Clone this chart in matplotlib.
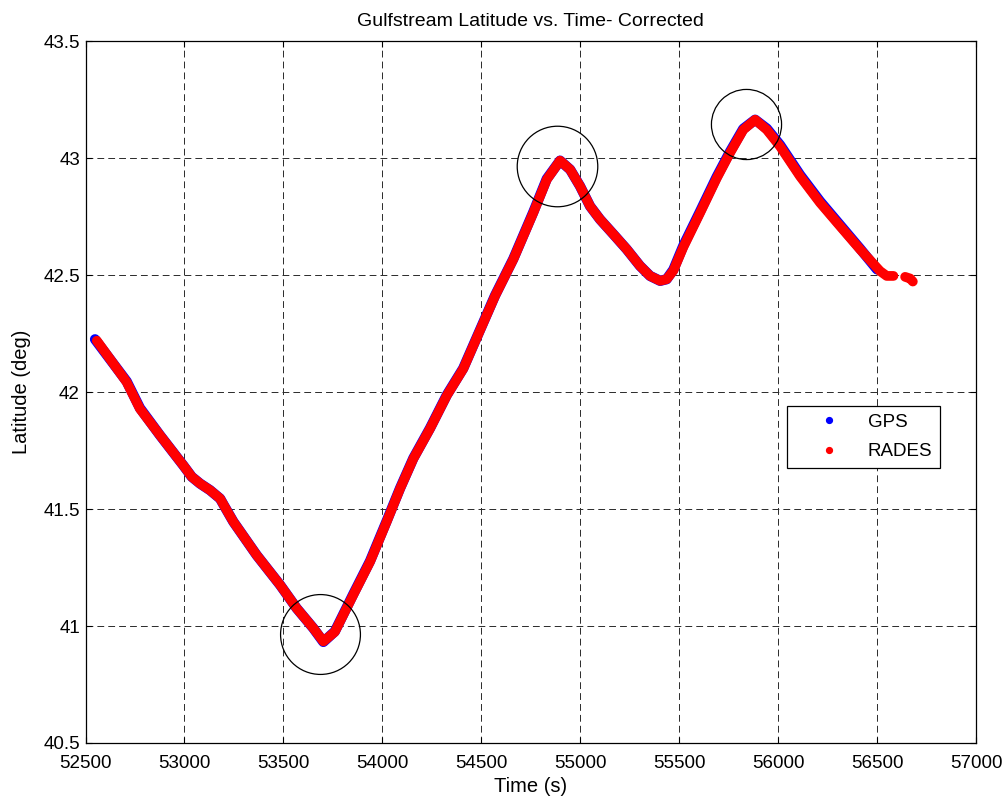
import numpy as np
import matplotlib
matplotlib.use("Agg")
import matplotlib.pyplot as plt
from matplotlib.lines import Line2D
from matplotlib.ticker import FixedLocator, FormatStrFormatter

# ---- data ----
rades_time = [52557, 52708, 52775, 52877, 52994, 53037, 53079, 53129, 53180, 53200,
              53247, 53365, 53483, 53567, 53651, 53702, 53760, 53853, 53938, 54022,
              54090, 54157, 54241, 54326, 54409, 54570, 54662, 54763, 54831, 54898,
              54949, 54999, 55050, 55100, 55168, 55235, 55302, 55353, 55404, 55437,
              55471, 55521, 55606, 55690, 55757, 55824, 55884, 55943, 56010, 56111,
              56212, 56313, 56414, 56515, 56549, 56583, np.nan, 56642, 56667, 56681]
rades_lat = [42.220, 42.043, 41.929, 41.815, 41.687, 41.638, 41.609, 41.581, 41.545, 41.515,
             41.446, 41.303, 41.176, 41.076, 40.991, 40.934, 40.975, 41.133, 41.275, 41.446,
             41.588, 41.716, 41.844, 41.986, 42.100, 42.412, 42.568, 42.767, 42.909, 42.990,
             42.952, 42.881, 42.795, 42.739, 42.675, 42.611, 42.540, 42.497, 42.476, 42.483,
             42.520, 42.620, 42.767, 42.915, 43.023, 43.122, 43.165, 43.122, 43.051, 42.923,
             42.810, 42.710, 42.611, 42.518, 42.497, 42.497, np.nan, 42.493, 42.486, 42.473]

gps_time = [52548, 52708, 52775, 52877, 52994, 53037, 53079, 53129, 53180, 53200,
            53247, 53365, 53483, 53567, 53651, 53702, 53760, 53853, 53938, 54022,
            54090, 54157, 54241, 54326, 54409, 54570, 54662, 54763, 54831, 54898,
            54949, 54999, 55050, 55100, 55168, 55235, 55302, 55353, 55404, 55437,
            55471, 55521, 55606, 55690, 55757, 55824, 55884, 55943, 56010, 56111,
            56212, 56313, 56414, 56500]
gps_lat = [42.226, 42.046, 41.932, 41.815, 41.687, 41.638, 41.609, 41.581, 41.545, 41.515,
           41.446, 41.303, 41.176, 41.076, 40.991, 40.932, 40.977, 41.136, 41.278, 41.449,
           41.590, 41.718, 41.846, 41.988, 42.102, 42.414, 42.570, 42.770, 42.912, 42.990,
           42.952, 42.881, 42.795, 42.739, 42.675, 42.611, 42.540, 42.497, 42.476, 42.483,
           42.524, 42.626, 42.773, 42.921, 43.028, 43.126, 43.165, 43.127, 43.057, 42.929,
           42.816, 42.715, 42.614, 42.525]

highlight_time = [53683, 54881, 55838]
highlight_lat = [40.968, 42.966, 43.148]
highlight_diam_pt = [57.5, 58.0, 50.5]

x_ticks = [52500, 53000, 53500, 54000, 54500, 55000, 55500, 56000, 56500, 57000]
y_ticks = [40.5, 41.0, 41.5, 42.0, 42.5, 43.0, 43.5]

title = "Gulfstream Latitude vs. Time- Corrected"
xlabel = "Time (s)"
ylabel = "Latitude (deg)"
series_names = ["GPS", "RADES"]

# ---- styling ----
plt.rcParams['font.family'] = ['Liberation Sans', 'DejaVu Sans']
FS = 13.5
FS_LABEL = 14.5
FS_TITLE = 14

fig = plt.figure(figsize=(10.05, 8.0), dpi=100)
ax = fig.add_axes([0.0851, 0.0713, 0.9711 - 0.0851, 0.9483 - 0.0713])

ax.plot(gps_time, gps_lat, color='#0000ff', lw=7.4, solid_capstyle='round',
        solid_joinstyle='round', zorder=3)
ax.plot(rades_time, rades_lat, color='#ff0000', lw=7.0, solid_capstyle='round',
        solid_joinstyle='round', zorder=4)

for cx, cy, d in zip(highlight_time, highlight_lat, highlight_diam_pt):
    ax.plot([cx], [cy], marker='o', ms=d, mfc='none', mec='black', mew=0.9,
            ls='none', zorder=5)

ax.set_xlim(x_ticks[0], x_ticks[-1])
ax.set_ylim(y_ticks[0], y_ticks[-1])
ax.xaxis.set_major_locator(FixedLocator(x_ticks))
ax.yaxis.set_major_locator(FixedLocator(y_ticks))
ax.xaxis.set_major_formatter(FormatStrFormatter('%d'))
ax.yaxis.set_major_formatter(plt.FuncFormatter(lambda v, p: '%g' % v))

ax.tick_params(direction='in', length=4, width=0.8, top=True, right=True,
               labelsize=FS, pad=4, colors='black')
ax.tick_params(axis='x', pad=8.5)
for s in ax.spines.values():
    s.set_linewidth(0.9)
    s.set_color('black')

ax.grid(True, color='#2a2a2a', linewidth=0.7, linestyle=(0, (7.0, 4.2)), zorder=1)
ax.set_axisbelow(True)

ax.set_title(title, fontsize=FS_TITLE, pad=11)
ax.set_xlabel(xlabel, fontsize=FS_LABEL, labelpad=4)
ax.set_ylabel(ylabel, fontsize=FS_LABEL, labelpad=9)

handles = [Line2D([], [], ls='none', marker='o', ms=4.2, color='#0000ff'),
           Line2D([], [], ls='none', marker='o', ms=4.2, color='#ff0000')]
leg = ax.legend(handles, series_names, loc='upper left',
                bbox_to_anchor=(0.7877, 0.4803), borderaxespad=0,
                fontsize=FS, frameon=True, fancybox=False, edgecolor='black',
                framealpha=1, borderpad=0.4, handlelength=3.7,
                handletextpad=0.2, labelspacing=0.67)
leg.get_frame().set_linewidth(0.9)

fig.savefig('out.png', dpi=100)
